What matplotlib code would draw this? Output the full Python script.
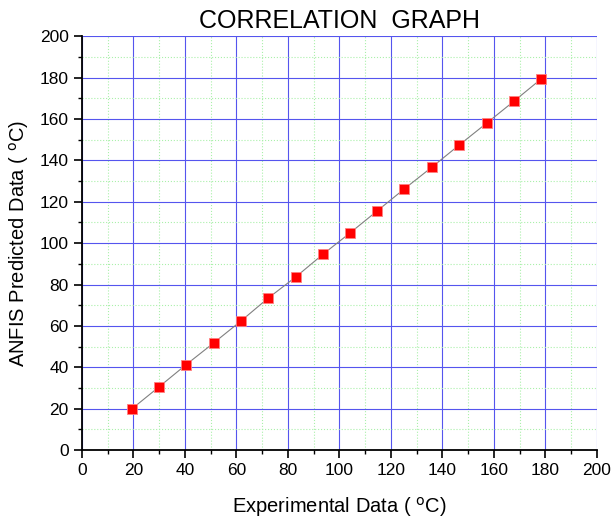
import matplotlib.pyplot as plt
from matplotlib.ticker import MultipleLocator

plt.rcParams['font.family'] = ['Liberation Sans', 'DejaVu Sans']

# Experimental vs ANFIS predicted values (deg C)
experimental = [19.4, 29.9, 40.4, 51.2, 61.7, 72.2, 83.0, 93.6,
                104.1, 114.6, 125.1, 135.9, 146.4, 157.2, 167.8, 178.3]
predicted = [19.9, 30.5, 41.2, 51.8, 62.3, 73.3, 83.6, 94.6,
             104.9, 115.5, 126.1, 136.7, 147.3, 158.0, 168.6, 179.3]

fig = plt.figure(figsize=(6.11, 5.24), dpi=100)
ax = fig.add_axes([0.134, 0.141, 0.843, 0.79])

ax.plot(experimental, predicted, color='gray', linewidth=0.8, zorder=3)
ax.plot(experimental, predicted, linestyle='none', marker='s', markersize=7,
        markerfacecolor='red', markeredgecolor='#ff8080', markeredgewidth=0.6, zorder=4)

ax.set_xlim(0, 200)
ax.set_ylim(0, 200)
ax.xaxis.set_major_locator(MultipleLocator(20))
ax.yaxis.set_major_locator(MultipleLocator(20))
ax.xaxis.set_minor_locator(MultipleLocator(10))
ax.yaxis.set_minor_locator(MultipleLocator(10))

ax.grid(which='major', color='#5555ee', linewidth=0.8)
ax.grid(which='minor', color='#aaf0aa', linestyle=':', linewidth=0.8)
ax.set_axisbelow(True)

for s in ['top', 'right']:
    ax.spines[s].set_visible(False)
for s in ['left', 'bottom']:
    ax.spines[s].set_linewidth(1.3)

ax.tick_params(which='major', direction='out', length=6, width=1.2, labelsize=12.5)
ax.tick_params(which='minor', direction='out', length=3, width=1.0)

ax.set_title('CORRELATION  GRAPH', fontsize=18, pad=6)
ax.set_xlabel('Experimental Data ( $^{\\rm o}$C)', fontsize=14.5, labelpad=12)
ax.set_ylabel('ANFIS Predicted Data ( $^{\\rm o}$C)', fontsize=14.5, labelpad=6)

plt.savefig('out.png', dpi=100)
